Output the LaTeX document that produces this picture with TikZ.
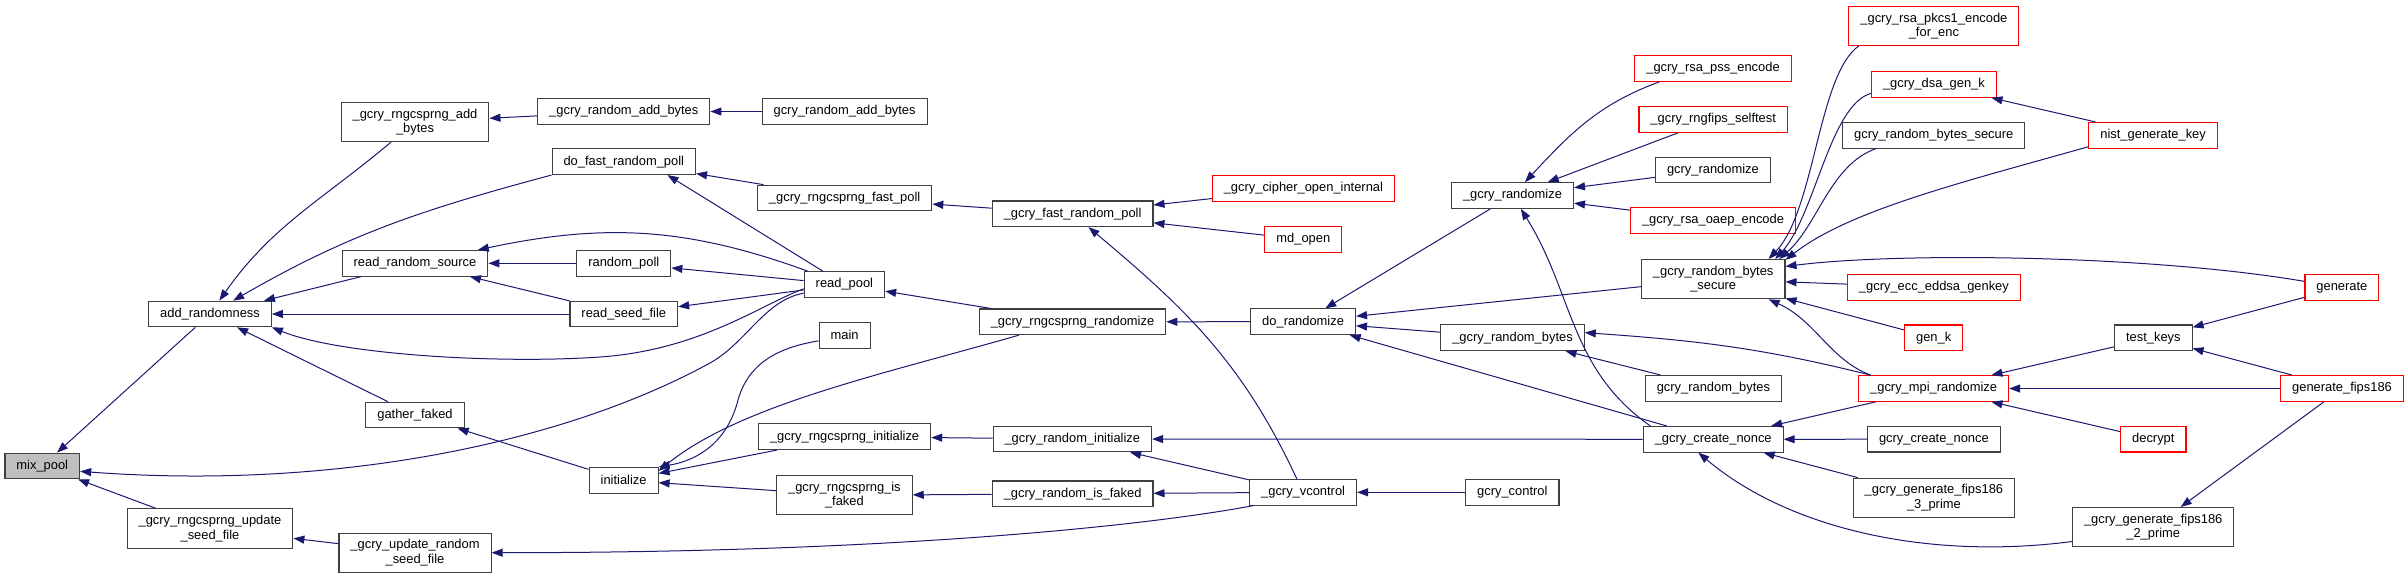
\documentclass[tikz,border=0pt]{standalone}
\usepackage{fontspec}
\setmainfont{Liberation Sans}
\usetikzlibrary{arrows.meta}
\definecolor{edgeblue}{HTML}{191970}
\definecolor{boxgrey}{HTML}{404040}
\definecolor{nodegrey}{HTML}{BFBFBF}

\begin{document}
\begin{tikzpicture}[x=1pt,y=-1pt,>={Triangle[length=11pt,width=8pt]},
  fn/.style={draw=boxgrey,line width=1.1pt,fill=white,minimum height=25.6pt,
    inner xsep=11.5pt,inner ysep=6.5pt,align=center,
    font=\fontsize{12.9}{14.3}\selectfont},
  fnred/.style={fn,draw=red},
  call/.style={->,draw=edgeblue,line width=1pt}]
  \useasboundingbox (0,0) rectangle (2408,579);
  % rank 0 and 1
  \node[fn,fill=nodegrey] (mixpool) at (42.3,466) {mix\_pool};
  \node[fn] (addrand) at (210,314) {add\_randomness};
  \node[fn] (updseed) at (210,528.5) {\_gcry\_rngcsprng\_update\\\_seed\_file};
  % rank 2
  \node[fn] (rngadd) at (415,122) {\_gcry\_rngcsprng\_add\\\_bytes};
  \node[fn] (readsrc) at (415,263.3) {read\_random\_source};
  \node[fn] (gather) at (415,415) {gather\_faked};
  \node[fn] (updrand) at (415,552.7) {\_gcry\_update\_random\\\_seed\_file};
  % rank 3
  \node[fn] (randadd) at (623.8,111.5) {\_gcry\_random\_add\_bytes};
  \node[fn] (dofast) at (623.8,161.7) {do\_fast\_random\_poll};
  \node[fn] (randpoll) at (623.8,263.3) {random\_poll};
  \node[fn] (readseed) at (623.8,314) {read\_seed\_file};
  \node[fn] (initfn) at (623.6,480.3) {initialize};
  % rank 4
  \node[fn] (gcryadd) at (844.6,111.5) {gcry\_random\_add\_bytes};
  \node[fn] (rngfast) at (844.6,198) {\_gcry\_rngcsprng\_fast\_poll};
  \node[fn] (readpool) at (844.4,284.5) {read\_pool};
  \node[fn] (mainfn) at (844.6,335.3) {main};
  \node[fn] (rnginit) at (844.6,436.7) {\_gcry\_rngcsprng\_initialize};
  \node[fn] (rngfaked) at (844.4,495.3) {\_gcry\_rngcsprng\_is\\\_faked};
  % rank 5
  \node[fn] (fastpoll) at (1072.6,213.8) {\_gcry\_fast\_random\_poll};
  \node[fn] (rngrand) at (1072.5,321.8) {\_gcry\_rngcsprng\_randomize};
  \node[fn] (randinit) at (1072.3,439) {\_gcry\_random\_initialize};
  \node[fn] (randfaked) at (1072.6,493.8) {\_gcry\_random\_is\_faked};
  % rank 6
  \node[fnred] (cipher) at (1303.4,188.5) {\_gcry\_cipher\_open\_internal};
  \node[fnred] (mdopen) at (1303.3,239.5) {md\_open};
  \node[fn] (dorand) at (1303.1,321.7) {do\_randomize};
  \node[fn] (vcontrol) at (1303.1,492.3) {\_gcry\_vcontrol};
  % rank 7
  \node[fn] (randomize) at (1512.5,195.5) {\_gcry\_randomize};
  \node[fn] (rbytes) at (1512.5,337.7) {\_gcry\_random\_bytes};
  \node[fn] (control) at (1512.3,492.3) {gcry\_control};
  % rank 8
  \node[fnred] (pss) at (1713,68.5) {\_gcry\_rsa\_pss\_encode};
  \node[fnred] (rngfips) at (1713.2,119.5) {\_gcry\_rngfips\_selftest};
  \node[fn] (gcryrandomize) at (1712.9,170) {gcry\_randomize};
  \node[fnred] (oaep) at (1713,220.5) {\_gcry\_rsa\_oaep\_encode};
  \node[fn] (bytessec) at (1713.2,279.2) {\_gcry\_random\_bytes\\\_secure};
  \node[fn] (gcrybytes) at (1713.4,388.3) {gcry\_random\_bytes};
  \node[fn] (nonce) at (1713.2,439.3) {\_gcry\_create\_nonce};
  % rank 9
  \node[fnred] (pkcs1) at (1933.9,25.8) {\_gcry\_rsa\_pkcs1\_encode\\\_for\_enc};
  \node[fnred] (dsagenk) at (1933.9,84.5) {\_gcry\_dsa\_gen\_k};
  \node[fn] (gcrybsec) at (1933.7,135.3) {gcry\_random\_bytes\_secure};
  \node[fnred] (eddsa) at (1933.9,287.3) {\_gcry\_ecc\_eddsa\_genkey};
  \node[fnred] (genk) at (1933.7,337.8) {gen\_k};
  \node[fnred] (mpirand) at (1933.6,388.5) {\_gcry\_mpi\_randomize};
  \node[fn] (gcrynonce) at (1933.9,439.2) {gcry\_create\_nonce};
  \node[fn] (fipsthree) at (1933.9,497.8) {\_gcry\_generate\_fips186\\\_3\_prime};
  % rank 10 and 11
  \node[fnred] (nist) at (2153.1,135.3) {nist\_generate\_key};
  \node[fn] (testkeys) at (2153.3,337.8) {test\_keys};
  \node[fnred] (decrypt) at (2153.3,439.2) {decrypt};
  \node[fn] (fipstwo) at (2153.2,527.2) {\_gcry\_generate\_fips186\\\_2\_prime};
  \node[fnred] (generate) at (2341.9,287.3) {generate};
  \node[fnred] (fipsgen) at (2342,388.5) {generate\_fips186};

  % callers of mix_pool
  \draw[call] (addrand) -- (mixpool);
  \draw[call] (updseed) -- (mixpool);
  \draw[call] (readpool.192) .. controls (765,300) and (746,343) .. (710,363)
    .. controls (560,445) and (330,490) .. (mixpool.-8);
  % callers of add_randomness
  \draw[call] (rngadd) to[out=220,in=55] (addrand);
  \draw[call] (dofast.south west) to[out=195,in=30] (addrand);
  \draw[call] (readsrc) -- (addrand);
  \draw[call] (readseed) -- (addrand);
  \draw[call] (readpool.186) .. controls (760,305) and (700,350) .. (600,357)
    .. controls (500,364) and (340,355) .. (addrand.south east);
  \draw[call] (gather) -- (addrand);
  \draw[call] (updrand) -- (updseed);
  % rank 2 and 3
  \draw[call] (randadd) -- (rngadd);
  \draw[call] (readpool) to[out=160,in=12] (readsrc);
  \draw[call] (randpoll) -- (readsrc);
  \draw[call] (readseed) -- (readsrc);
  \draw[call] (initfn) -- (gather);
  \draw[call] (vcontrol.195) .. controls (1150,525) and (900,552.7) .. (updrand.east);
  \draw[call] (gcryadd) -- (randadd);
  \draw[call] (readpool) -- (dofast.-17);
  \draw[call] (rngfast) -- (dofast);
  \draw[call] (readpool) -- (randpoll);
  \draw[call] (readpool) -- (readseed);
  \draw[call] (mainfn.192) .. controls (775,348) and (748,365) .. (738,400)
    .. controls (728,440) and (700,460) .. (initfn.north east);
  \draw[call] (rngrand.194) .. controls (880,375) and (740,405) .. (initfn.15);
  \draw[call] (rnginit) -- (initfn);
  \draw[call] (rngfaked) -- (initfn);
  % rank 4 and 5
  \draw[call] (fastpoll) -- (rngfast);
  \draw[call] (rngrand) -- (readpool);
  \draw[call] (randinit) -- (rnginit);
  \draw[call] (randfaked) -- (rngfaked);
  \draw[call] (cipher) -- (fastpoll);
  \draw[call] (mdopen) -- (fastpoll);
  \draw[call] (vcontrol) to[out=115,in=-40] (fastpoll);
  \draw[call] (dorand) -- (rngrand);
  \draw[call] (vcontrol) -- (randinit);
  \draw[call] (nonce) -- (randinit);
  \draw[call] (vcontrol) -- (randfaked);
  % rank 6 and 7
  \draw[call] (control) -- (vcontrol);
  \draw[call] (randomize) -- (dorand);
  \draw[call] (bytessec) -- (dorand);
  \draw[call] (rbytes) -- (dorand);
  \draw[call] (nonce) -- (dorand);
  \draw[call] (pss.194) to[out=200,in=47] (randomize);
  \draw[call] (rngfips) -- (randomize);
  \draw[call] (gcryrandomize) -- (randomize);
  \draw[call] (oaep) -- (randomize);
  \draw[call] (nonce.168) to[out=145,in=-58] (randomize);
  \draw[call] (gcrybytes) -- (rbytes);
  \draw[call] (mpirand.168) to[out=166,in=-4] (rbytes.4);
  % callers of _gcry_random_bytes_secure
  \draw[call] (pkcs1.195) .. controls (1818,75) and (1815,210) .. (bytessec.20);
  \draw[call] (dsagenk.188) .. controls (1830,105) and (1815,215) .. (bytessec.18);
  \draw[call] (gcrybsec.193) .. controls (1830,165) and (1818,225) .. (bytessec.17);
  \draw[call] (nist.190) .. controls (1960,183) and (1850,210) .. (bytessec.15);
  \draw[call] (generate.171) .. controls (2150,255) and (1900,252) .. (bytessec.10);
  \draw[call] (eddsa) -- (bytessec);
  \draw[call] (genk) -- (bytessec);
  \draw[call] (mpirand.168) .. controls (1830,360) and (1815,320) .. (bytessec.-20);
  % rank 8 to 11
  \draw[call] (nist) -- (dsagenk);
  \draw[call] (mpirand) -- (nonce);
  \draw[call] (gcrynonce) -- (nonce);
  \draw[call] (fipsthree) -- (nonce);
  \draw[call] (fipstwo.190) .. controls (1930,560) and (1790,530) .. (nonce.222);
  \draw[call] (testkeys) -- (mpirand);
  \draw[call] (fipsgen) -- (mpirand);
  \draw[call] (decrypt) -- (mpirand);
  \draw[call] (generate) -- (testkeys);
  \draw[call] (fipsgen) -- (testkeys);
  \draw[call] (fipsgen) -- (fipstwo);
\end{tikzpicture}
\end{document}
